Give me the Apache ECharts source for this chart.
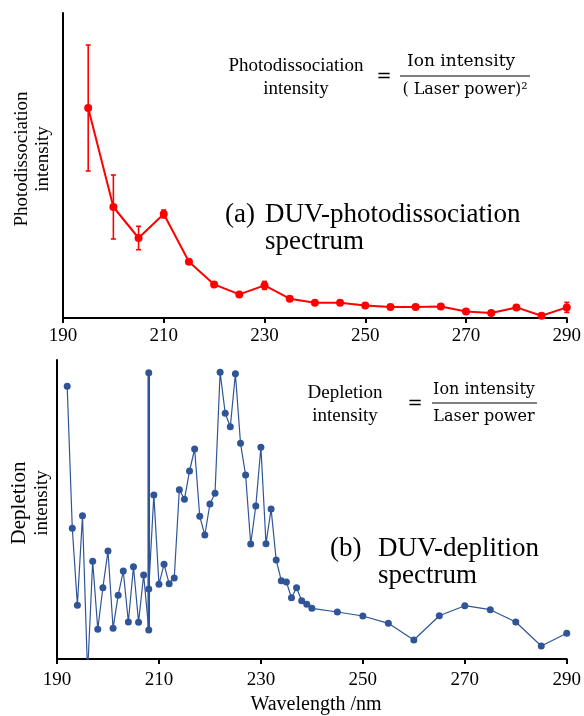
<!DOCTYPE html>
<html>
<head>
<meta charset="utf-8">
<script src="https://cdn.jsdelivr.net/npm/echarts@6/dist/echarts.min.js"></script>
<style>
html, body { margin: 0; padding: 0; background: #fff; }
#main { width: 584px; height: 716px; }
</style>
</head>
<body>
<div id="main"></div>
<script>
// (a) photodissociation spectrum
var pdWave = [195, 200, 205, 210, 215, 220, 225, 230, 235, 240, 245, 250, 255, 260, 265, 270, 275, 280, 285, 290];
var pdIntensity = [210, 111, 80, 104, 56.3, 33.6, 23.6, 32.6, 19.3, 15.3, 15.3, 12.6, 11, 11, 11.6, 6.6, 5, 10.6, 2.3, 10.6];
var pdError = [63, 32, 11.7, 4, 0, 0, 0, 4, 0, 0, 0, 0, 0, 0, 0, 0, 0, 0, 0, 5];

// (b) depletion spectrum
var dpWave = [192, 193, 194, 195, 196, 197, 198, 199, 200, 201, 202, 203, 204, 205, 206, 207, 208, 208, 208, 209,
  210, 211, 212, 213, 214, 215, 216, 217, 218, 219, 220, 221, 222, 223, 224, 225, 226, 227, 228, 229,
  230, 231, 232, 233, 234, 235, 236, 237, 238, 239, 240, 245, 250, 255, 260, 265, 270, 275, 280, 285, 290];
var dpIntensity = [272.7, 130.7, 53.7, 143.3, -15, 97.7, 29.7, 71.3, 108, 30.7, 63.7, 88, 37, 92.3, 36.7, 84, 29, 286.3, 70, 164,
  74.7, 94.7, 75.3, 81, 169.3, 159.7, 188, 210, 142.7, 124, 155, 165.7, 286.7, 245.7, 232.3, 285.3, 215.7, 184, 115, 153,
  211.7, 115.3, 150, 99, 78.3, 77, 61.3, 71.3, 58.3, 54.7, 50.7, 47, 43, 35.7, 19, 43.3, 53.3, 49.3, 37, 13, 25.7];
var spikeWave = [208, 208, 208];
var spikeIntensity = [29, 286.3, 70];

var xTicks = [190, 210, 230, 250, 270, 290];

var serif = '"Liberation Serif", "Times New Roman", serif';
var mathSerif = '"DejaVu Serif", serif';
var red = '#ff0000';
var blue = '#2f5597';

var pdLine = pdWave.map(function (w, i) { return [w, pdIntensity[i]]; });
var pdBars = pdWave.map(function (w, i) { return [w, pdIntensity[i] - pdError[i], pdIntensity[i] + pdError[i]]; })
  .filter(function (d) { return d[2] > d[1]; });
var dpLine = dpWave.map(function (w, i) { return [w, dpIntensity[i]]; });
var spikeLine = spikeWave.map(function (w, i) { return [w, spikeIntensity[i]]; });

function renderErrorBar(params, api) {
  var x = api.value(0);
  var lo = api.coord([x, api.value(1)]);
  var hi = api.coord([x, api.value(2)]);
  var cap = 2.5;
  var st = { stroke: red, lineWidth: 1.6 };
  return {
    type: 'group',
    children: [
      { type: 'line', shape: { x1: lo[0], y1: lo[1], x2: hi[0], y2: hi[1] }, style: st },
      { type: 'line', shape: { x1: lo[0] - cap, y1: lo[1], x2: lo[0] + cap, y2: lo[1] }, style: st },
      { type: 'line', shape: { x1: hi[0] - cap, y1: hi[1], x2: hi[0] + cap, y2: hi[1] }, style: st }
    ]
  };
}

function xAxisOf(idx, margin) {
  return {
    gridIndex: idx,
    type: 'value',
    min: xTicks[0],
    max: xTicks[xTicks.length - 1],
    interval: xTicks[1] - xTicks[0],
    axisLine: { onZero: false, lineStyle: { color: '#000', width: 2 } },
    axisTick: { show: true, length: 5, lineStyle: { color: '#000', width: 2 } },
    axisLabel: { color: '#000', fontFamily: serif, fontSize: 19, margin: margin },
    splitLine: { show: false }
  };
}

function yAxisOf(idx, max) {
  return {
    gridIndex: idx,
    type: 'value',
    min: 0,
    max: max,
    axisLine: { show: true, lineStyle: { color: '#000', width: 2 } },
    axisTick: { show: false },
    axisLabel: { show: false },
    splitLine: { show: false }
  };
}

function txt(x, y, text, size, extra, family) {
  var o = {
    type: 'text', x: x, y: y,
    style: { text: text, font: size + 'px ' + (family || serif), fill: '#000', align: 'left', verticalAlign: 'middle' }
  };
  if (extra) {
    for (var k in extra) o.style[k] = extra[k];
  }
  return o;
}

var chart = echarts.init(document.getElementById('main'));
var option = {
  animation: false,
  grid: [
    { left: 63, right: 16, top: 13, height: 305 },
    { left: 57, right: 17, top: 360, height: 299 }
  ],
  xAxis: [xAxisOf(0, 9), xAxisOf(1, 12)],
  yAxis: [yAxisOf(0, 305), yAxisOf(1, 299)],
  series: [
    {
      type: 'custom',
      xAxisIndex: 0, yAxisIndex: 0,
      renderItem: renderErrorBar,
      data: pdBars,
      z: 1
    },
    {
      type: 'line',
      xAxisIndex: 0, yAxisIndex: 0,
      data: pdLine,
      symbol: 'circle',
      symbolSize: 8,
      itemStyle: { color: red },
      lineStyle: { color: red, width: 2 },
      z: 2
    },
    {
      type: 'line',
      xAxisIndex: 1, yAxisIndex: 1,
      data: dpLine,
      clip: true,
      symbol: 'circle',
      symbolSize: 7,
      itemStyle: { color: blue },
      lineStyle: { color: blue, width: 1.2 },
      z: 2
    },
    {
      type: 'line',
      xAxisIndex: 1, yAxisIndex: 1,
      data: spikeLine,
      symbol: 'none',
      lineStyle: { color: blue, width: 2.6 },
      z: 1
    }
  ],
  graphic: [
    // y axis titles
    txt(22, 159, 'Photodissociation', 19, { align: 'center' }),
    txt(43, 159, 'intensity', 19, { align: 'center' }),
    txt(19, 503, 'Depletion', 21, { align: 'center' }),
    txt(42, 503, 'intensity', 19, { align: 'center' }),
    // x axis title
    txt(316, 705, 'Wavelength /nm', 20, { align: 'center' }),
    // formula (a)
    txt(296, 66, 'Photodissociation', 19, { align: 'center' }),
    txt(296, 89, 'intensity', 19, { align: 'center' }),
    txt(384, 77, '=', 18, { align: 'center' }, mathSerif),
    txt(461, 62, 'Ion intensity', 17, { align: 'center' }, mathSerif),
    { type: 'line', shape: { x1: 400, y1: 76, x2: 530, y2: 76 }, style: { stroke: '#000', lineWidth: 1 } },
    txt(465, 90, '( Laser power)\u00b2', 16, { align: 'center' }, mathSerif),
    // label (a)
    txt(225, 215, '(a)', 27),
    txt(265, 215, 'DUV-photodissociation', 27),
    txt(265, 242, 'spectrum', 27),
    // formula (b)
    txt(345, 393, 'Depletion', 19, { align: 'center' }),
    txt(345, 416, 'intensity', 19, { align: 'center' }),
    txt(415, 404, '=', 18, { align: 'center' }, mathSerif),
    txt(484, 390, 'Ion intensity', 16, { align: 'center' }, mathSerif),
    { type: 'line', shape: { x1: 432, y1: 403, x2: 537, y2: 403 }, style: { stroke: '#000', lineWidth: 1 } },
    txt(484, 417, 'Laser power', 16, { align: 'center' }, mathSerif),
    // label (b)
    txt(330, 549, '(b)', 27),
    txt(378, 549, 'DUV-deplition', 27),
    txt(378, 576, 'spectrum', 27)
  ]
};
// rotate the y axis titles
[0, 1, 2, 3].forEach(function (i) { option.graphic[i].rotation = Math.PI / 2; });
chart.setOption(option);
</script>
</body>
</html>
